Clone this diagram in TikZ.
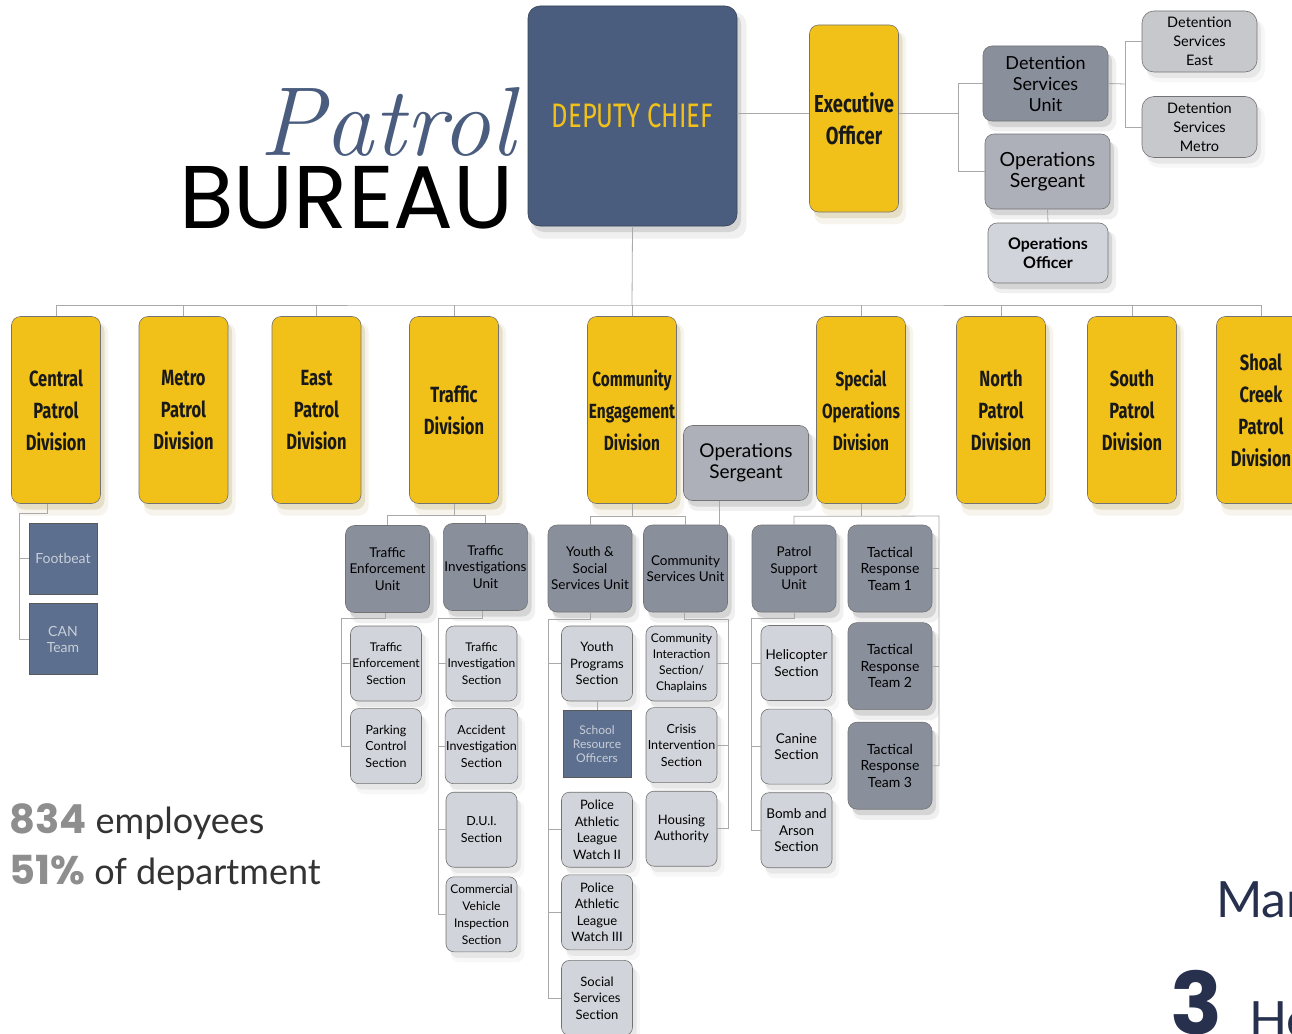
\documentclass[tikz,border=0pt]{standalone}
\usepackage{fontspec}
\setmainfont{Lato}
\newfontfamily\condfont{Fira Sans}[FakeStretch=0.75]
\newfontfamily\titlefont{Poppins}
\newfontfamily\patrolfont{Latin Modern Roman}
\usetikzlibrary{positioning, shadows}

\definecolor{slate}{HTML}{4B5D7E}
\definecolor{gold}{HTML}{F1C11A}
\definecolor{unitgray}{HTML}{8A8F9C}
\definecolor{midgray}{HTML}{ADB0B8}
\definecolor{secgray}{HTML}{D1D4DA}
\definecolor{tilegray}{HTML}{C6C8CC}
\definecolor{squareblue}{HTML}{5C6F8E}
\definecolor{squaretext}{HTML}{C9CED8}
\definecolor{linkgray}{HTML}{A9A9A9}
\definecolor{navy}{HTML}{27314D}
\definecolor{numgray}{HTML}{8E8E8E}

\begin{document}
\begin{tikzpicture}[x=1pt, y=-1pt,
    boxshadow/.style={drop shadow={shadow xshift=6pt, shadow yshift=-9pt, opacity=.08, fill=#1, shadow scale=1.03},
        drop shadow={shadow xshift=4pt, shadow yshift=-6pt, opacity=.16, fill=#1}},
    boxshadow/.default=black!70,
    box/.style={draw=black!55, line width=0.6pt, rounded corners=9pt, align=center, inner sep=1pt},
    divbox/.style={box, fill=gold, text=black!90, minimum width=89pt, minimum height=187pt,
        font=\condfont\bfseries\fontsize{22}{32}\selectfont, boxshadow=gold!60!black},
    widediv/.style={divbox, inner xsep=0pt, font=\condfont\bfseries\fontsize{20.5}{32}\selectfont},
    unitbox/.style={box, fill=unitgray, minimum width=84pt, minimum height=87pt,
        font=\fontsize{13.5}{16.5}\selectfont, boxshadow},
    secbox/.style={box, fill=secgray, rounded corners=8pt, minimum width=71pt, minimum height=75pt,
        font=\fontsize{12.5}{16.5}\selectfont, boxshadow=black!40},
    tile/.style={box, fill=tilegray, rounded corners=12pt, minimum width=115pt, minimum height=61pt,
        font=\fontsize{14.5}{19}\selectfont, boxshadow=black!40},
    bluesq/.style={draw=black!65, line width=0.6pt, fill=squareblue, text=squaretext, align=center,
        minimum width=68pt, minimum height=71pt, inner sep=1pt, font=\fontsize{14}{16}\selectfont},
    link/.style={draw=linkgray, line width=0.8pt}]

    \useasboundingbox (0,0) rectangle (1292,1033);
    \clip (0,0) rectangle (1292,1033);
    \fill[white] (0,0) rectangle (1292,1033);

    \node(patrol)[anchor=base east, inner sep=0, text=slate, font=\patrolfont\itshape\fontsize{98}{98}\selectfont]
        at (515,155) {Patrol};
    \node(bureau)[anchor=base east, inner sep=0, font=\titlefont\fontsize{89}{89}\selectfont]
        at (514,228) {BUREAU};

    \node(chief)[box, fill=slate, draw=slate!70!black, rounded corners=12pt, minimum width=209pt, minimum height=220pt,
        text=gold, font=\condfont\fontsize{34}{34}\selectfont, boxshadow] at (632.5,116) {DEPUTY CHIEF};
    \node(exec)[divbox, inner xsep=0pt, font=\condfont\bfseries\fontsize{24.5}{32}\selectfont] at (854,118.5) {Executive\\Officer};
    \node(dsu)[box, fill=unitgray, minimum width=125pt, minimum height=75pt, font=\fontsize{18}{21}\selectfont, boxshadow]
        at (1045.5,83.5) {Detention\\Services\\Unit};
    \node(opsgt)[box, fill=midgray, minimum width=125pt, minimum height=75pt, font=\fontsize{19.5}{21}\selectfont, boxshadow]
        at (1047.5,171.5) {Operations\\Sergeant};
    \node(opoff)[box, fill=secgray, minimum width=120pt, minimum height=60pt, font=\bfseries\fontsize{16}{19}\selectfont, boxshadow]
        at (1048,253) {Operations\\Officer};
    \node(dseast)[tile] at (1199.5,41.5) {Detention\\Services\\East};
    \node(dsmetro)[tile] at (1199.5,127) {Detention\\Services\\Metro};

    \node(central)[divbox] at (56,410) {Central\\Patrol\\Division};
    \node(metro)[divbox] at (183.5,410) {Metro\\Patrol\\Division};
    \node(east)[divbox] at (316.5,410) {East\\Patrol\\Division};
    \node(traffic)[divbox] at (454,410) {Traffic\\Division};
    \node(commeng)[widediv] at (632,410) {Community\\Engagement\\Division};
    \node(specops)[widediv] at (861,410) {Special\\Operations\\Division};
    \node(north)[divbox] at (1001,410) {North\\Patrol\\Division};
    \node(south)[divbox] at (1132,410) {South\\Patrol\\Division};
    \node(shoal)[divbox] at (1261,410) {Shoal\\Creek\\Patrol\\Division};
    \node(cesgt)[box, fill=midgray, minimum width=125pt, minimum height=75pt, font=\fontsize{19}{21}\selectfont, boxshadow]
        at (746,463) {Operations\\Sergeant};

    \node(footbeat)[bluesq] at (63,558.5) {Footbeat};
    \node(canteam)[bluesq, below=9pt of footbeat] {CAN\\Team};

    \node(teu)[unitbox] at (387.5,569) {Traffic\\Enforcement\\Unit};
    \node(tiu)[unitbox] at (485.5,567) {Traffic\\Investigations\\Unit};
    \node(tes)[secbox, font=\fontsize{12}{16.5}\selectfont] at (386,663.5) {Traffic\\Enforcement\\Section};
    \node(pcs)[secbox, below=7pt of tes] {Parking\\Control\\Section};
    \node(tis)[secbox, font=\fontsize{12}{16.5}\selectfont] at (481.5,663.5) {Traffic\\Investigation\\Section};
    \node(ais)[secbox, below=7pt of tis] {Accident\\Investigation\\Section};
    \node(dui)[secbox, below=8pt of ais] {D.U.I.\\Section};
    \node(cvi)[secbox, font=\fontsize{12}{17}\selectfont, below=9pt of dui] {Commercial\\Vehicle\\Inspection\\Section};

    \node(yssu)[unitbox] at (590,568.5) {Youth \&\\Social\\Services Unit};
    \node(csu)[unitbox] at (685.5,568.5) {Community\\Services Unit};
    \node(yps)[secbox, font=\fontsize{13}{16.5}\selectfont] at (597,663.5) {Youth\\Programs\\Section};
    \node(sro)[bluesq, minimum height=67pt, font=\fontsize{12}{14}\selectfont, below=9pt of yps] {School\\Resource\\Officers};
    \node(pal2)[secbox, font=\fontsize{13}{16.5}\selectfont, below=14pt of sro] {Police\\Athletic\\League\\Watch II};
    \node(pal3)[secbox, font=\fontsize{13}{16.5}\selectfont, below=7pt of pal2] {Police\\Athletic\\League\\Watch III};
    \node(sss)[secbox, font=\fontsize{13}{16.5}\selectfont, below=10pt of pal3] {Social\\Services\\Section};
    \node(cis)[secbox, font=\fontsize{12}{16}\selectfont] at (681.5,663.5) {Community\\Interaction\\Section/\\Chaplains};
    \node(cri)[secbox, below=6pt of cis] {Crisis\\Intervention\\Section};
    \node(hou)[secbox, font=\fontsize{13}{16.5}\selectfont, below=8pt of cri] {Housing\\Authority};

    \node(psu)[unitbox] at (794,568.5) {Patrol\\Support\\Unit};
    \node(heli)[secbox, font=\fontsize{13.5}{16.5}\selectfont] at (796.5,663) {Helicopter\\Section};
    \node(canine)[secbox, font=\fontsize{13.5}{16.5}\selectfont, below=8pt of heli] {Canine\\Section};
    \node(bomb)[secbox, font=\fontsize{13.5}{16.5}\selectfont, below=8pt of canine] {Bomb and\\Arson\\Section};
    \node(trt1)[unitbox, font=\fontsize{14}{16.5}\selectfont] at (890,568.5) {Tactical\\Response\\Team 1};
    \node(trt2)[unitbox, font=\fontsize{14}{16.5}\selectfont, below=10pt of trt1] {Tactical\\Response\\Team 2};
    \node(trt3)[unitbox, font=\fontsize{14}{16.5}\selectfont, below=12pt of trt2] {Tactical\\Response\\Team 3};

    \coordinate(mainbus) at (632,305);
    \draw[link] (chief.south) -- (mainbus);
    \draw[link] (central.north) |- (mainbus) -| (shoal.north);
    \draw[link] (metro.north) -- (metro.north |- mainbus);
    \draw[link] (east.north) -- (east.north |- mainbus);
    \draw[link] (traffic.north) -- (traffic.north |- mainbus);
    \draw[link] (commeng.north) -- (mainbus);
    \draw[link] (specops.north) -- (specops.north |- mainbus);
    \draw[link] (north.north) -- (north.north |- mainbus);
    \draw[link] (south.north) -- (south.north |- mainbus);

    \coordinate(erail) at (958,113);
    \draw[link] (chief.east |- erail) -- (exec.west |- erail);
    \draw[link] (exec.east |- erail) -- (erail);
    \draw[link] (dsu.west) -| (erail) |- (opsgt.west);
    \draw[link] (opsgt.south) -- (opoff.north);
    \coordinate(drail) at (1125,84);
    \draw[link] (dsu.east) -- (drail);
    \draw[link] (dseast.west) -| (drail) |- (dsmetro.west);

    \coordinate(crail) at (19,513);
    \draw[link] ([xshift=-9pt]central.south) |- (crail) |- (canteam.west);
    \draw[link] (crail |- footbeat.west) -- (footbeat.west);

    \draw[link] (traffic.south) -- ++(0,12) coordinate(tbus);
    \draw[link] (teu.north) |- (tbus) -| (tiu.north);
    \coordinate(terail) at (341,618);
    \draw[link] ([xshift=-2pt]teu.south) |- (terail) |- (pcs.west);
    \draw[link] (terail |- tes.west) -- (tes.west);
    \coordinate(tirail) at (438,618);
    \draw[link] ([xshift=-3pt]tiu.south) |- (tirail) |- (cvi.west);
    \draw[link] (tirail |- tis.west) -- (tis.west);
    \draw[link] (tirail |- ais.west) -- (ais.west);
    \draw[link] (tirail |- dui.west) -- (dui.west);

    \draw[link] (commeng.south) -- ++(0,12.5) coordinate(cbus);
    \draw[link] (yssu.north) |- (cbus) -| (csu.north);
    \draw[link] ([xshift=-27pt]cesgt.south) -- ([xshift=-27pt]cesgt.south |- csu.north);
    \coordinate(yrail) at (548,619);
    \draw[link] (yssu.south) |- (yrail) |- (sss.west);
    \draw[link] (yrail |- yps.west) -- (yps.west);
    \draw[link] (yrail |- pal2.west) -- (pal2.west);
    \draw[link] (yrail |- pal3.west) -- (pal3.west);
    \draw[link] (yps.south) -- (sro.north);
    \coordinate(csrail) at (728,619);
    \draw[link] ([xshift=-1.5pt]csu.south) |- (csrail) |- (hou.east);
    \draw[link] (csrail |- cis.east) -- (cis.east);
    \draw[link] (csrail |- cri.east) -- (cri.east);

    \draw[link] (specops.south) -- ++(0,12.5) coordinate(sbus);
    \coordinate(srail) at (939,516);
    \draw[link] (psu.north) |- (sbus) -- (srail) |- (trt3.east);
    \draw[link] (srail |- trt1.east) -- (trt1.east);
    \draw[link] (srail |- trt2.east) -- (trt2.east);
    \coordinate(prail) at (751,618);
    \draw[link] (psu.south) |- (prail) |- (bomb.west);
    \draw[link] (prail |- heli.west) -- (heli.west);
    \draw[link] (prail |- canine.west) -- (canine.west);

    \node(employees)[anchor=base west, inner sep=0, text=black!80, font=\fontsize{36}{36}\selectfont] at (9,833)
        {{\titlefont\bfseries\fontsize{40}{40}\selectfont\color{numgray}834} employees};
    \node(share)[anchor=base west, inner sep=0, text=black!80, font=\fontsize{36}{36}\selectfont] at (9,884)
        {{\titlefont\bfseries\fontsize{40}{40}\selectfont\color{numgray}51\%} of department};
    \node(mar)[anchor=base west, inner sep=0, text=navy, font=\fontsize{50}{50}\selectfont] at (1216,917) {Mar};
    \node(three)[anchor=base west, inner sep=0, text=navy, font=\titlefont\bfseries\fontsize{86}{86}\selectfont] at (1170,1034) {3};
    \node(he)[anchor=base west, inner sep=0, text=navy, font=\fontsize{50}{50}\selectfont] at (1249,1037) {He};
\end{tikzpicture}
\end{document}
